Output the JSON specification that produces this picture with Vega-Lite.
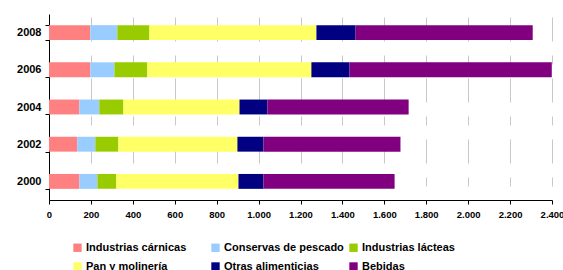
{
  "$schema": "https://vega.github.io/schema/vega-lite/v6.json",
  "width": 503,
  "height": 186,
  "autosize": "none",
  "padding": {"left": 49, "top": 14, "right": 11, "bottom": 70},
  "background": "white",
  "config": {
    "view": {"stroke": null},
    "font": "Liberation Sans"
  },
  "data": {
    "values": [
      {"anio": "2008", "categoria": "Industrias cárnicas", "orden": 1, "valor": 197},
      {"anio": "2008", "categoria": "Conservas de pescado", "orden": 2, "valor": 129},
      {"anio": "2008", "categoria": "Industrias lácteas", "orden": 3, "valor": 153},
      {"anio": "2008", "categoria": "Pan y molinería", "orden": 4, "valor": 797},
      {"anio": "2008", "categoria": "Otras alimenticias", "orden": 5, "valor": 187},
      {"anio": "2008", "categoria": "Bebidas", "orden": 6, "valor": 845},
      {"anio": "2006", "categoria": "Industrias cárnicas", "orden": 1, "valor": 197},
      {"anio": "2006", "categoria": "Conservas de pescado", "orden": 2, "valor": 115},
      {"anio": "2006", "categoria": "Industrias lácteas", "orden": 3, "valor": 157},
      {"anio": "2006", "categoria": "Pan y molinería", "orden": 4, "valor": 783},
      {"anio": "2006", "categoria": "Otras alimenticias", "orden": 5, "valor": 182},
      {"anio": "2006", "categoria": "Bebidas", "orden": 6, "valor": 965},
      {"anio": "2004", "categoria": "Industrias cárnicas", "orden": 1, "valor": 145},
      {"anio": "2004", "categoria": "Conservas de pescado", "orden": 2, "valor": 95},
      {"anio": "2004", "categoria": "Industrias lácteas", "orden": 3, "valor": 115},
      {"anio": "2004", "categoria": "Pan y molinería", "orden": 4, "valor": 554},
      {"anio": "2004", "categoria": "Otras alimenticias", "orden": 5, "valor": 133},
      {"anio": "2004", "categoria": "Bebidas", "orden": 6, "valor": 674},
      {"anio": "2002", "categoria": "Industrias cárnicas", "orden": 1, "valor": 135},
      {"anio": "2002", "categoria": "Conservas de pescado", "orden": 2, "valor": 86},
      {"anio": "2002", "categoria": "Industrias lácteas", "orden": 3, "valor": 110},
      {"anio": "2002", "categoria": "Pan y molinería", "orden": 4, "valor": 568},
      {"anio": "2002", "categoria": "Otras alimenticias", "orden": 5, "valor": 124},
      {"anio": "2002", "categoria": "Bebidas", "orden": 6, "valor": 654},
      {"anio": "2000", "categoria": "Industrias cárnicas", "orden": 1, "valor": 145},
      {"anio": "2000", "categoria": "Conservas de pescado", "orden": 2, "valor": 86},
      {"anio": "2000", "categoria": "Industrias lácteas", "orden": 3, "valor": 90},
      {"anio": "2000", "categoria": "Pan y molinería", "orden": 4, "valor": 583},
      {"anio": "2000", "categoria": "Otras alimenticias", "orden": 5, "valor": 119},
      {"anio": "2000", "categoria": "Bebidas", "orden": 6, "valor": 626}
    ]
  },
  "mark": {"type": "bar"},
  "encoding": {
    "y": {
      "field": "anio",
      "type": "nominal",
      "sort": "descending",
      "scale": {"paddingInner": 0.6, "paddingOuter": 0.3},
      "axis": {
        "title": null,
        "domainColor": "black",
        "domainWidth": 1,
        "tickColor": "black",
        "tickSize": 4,
        "tickBand": "extent",
        "labelFont": "Liberation Sans",
        "labelFontWeight": "bold",
        "labelFontSize": 11,
        "labelColor": "black",
        "labelPadding": 4,
        "grid": false
      }
    },
    "x": {
      "field": "valor",
      "type": "quantitative",
      "stack": "zero",
      "scale": {"domain": [0, 2400], "nice": false},
      "axis": {
        "title": null,
        "values": [0, 200, 400, 600, 800, 1000, 1200, 1400, 1600, 1800, 2000, 2200, 2400],
        "labelExpr": "replace(format(datum.value, ','), ',', '.')",
        "domainColor": "black",
        "tickColor": "black",
        "tickSize": 4,
        "labelFont": "Liberation Sans",
        "labelFontWeight": "bold",
        "labelFontSize": 9.5,
        "labelColor": "black",
        "labelPadding": 5,
        "labelFlush": false,
        "labelOverlap": false,
        "grid": true,
        "gridColor": "#c8c8c8",
        "gridWidth": 1,
        "gridDash": [24, 14, 9, 14],
        "gridDashOffset": 24
      }
    },
    "color": {
      "field": "categoria",
      "type": "nominal",
      "scale": {
        "domain": ["Industrias cárnicas", "Conservas de pescado", "Industrias lácteas", "Pan y molinería", "Otras alimenticias", "Bebidas"],
        "range": ["#FF8080", "#99CCFF", "#99CC00", "#FFFF66", "#000080", "#800080"]
      },
      "legend": {
        "title": null,
        "orient": "none",
        "legendX": 23,
        "legendY": 228,
        "direction": "horizontal",
        "columns": 3,
        "gridAlign": "all",
        "columnPadding": 4,
        "rowPadding": 7,
        "symbolType": "square",
        "symbolSize": 70,
        "symbolStrokeWidth": 0,
        "symbolOffset": 0,
        "labelOffset": 3,
        "labelFont": "Liberation Sans",
        "labelFontWeight": "bold",
        "labelFontSize": 11,
        "labelColor": "black",
        "labelLimit": 200
      }
    },
    "order": {"field": "orden", "type": "quantitative"}
  }
}
